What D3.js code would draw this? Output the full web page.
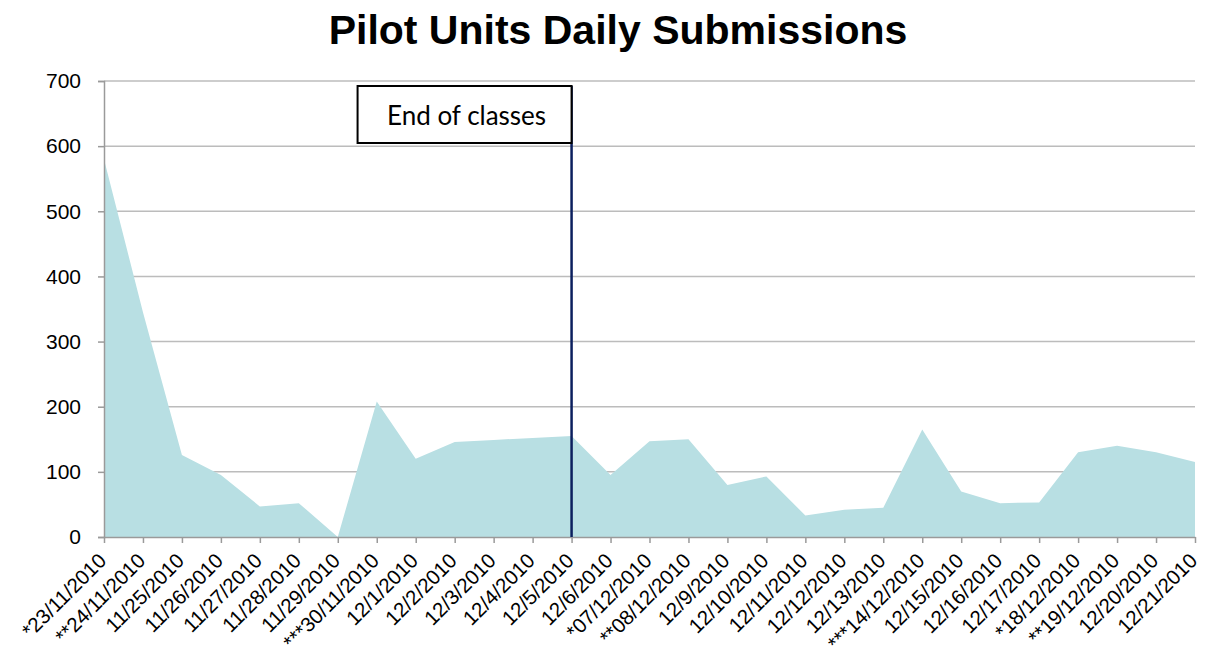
<!DOCTYPE html>
<html>
<head>
<meta charset="utf-8">
<script src="https://cdn.jsdelivr.net/npm/d3@7"></script>
<style>
  body { margin: 0; background: #fff; }
  svg { display: block; }
</style>
</head>
<body>
<div id="chart"></div>
<script>
// dates as printed on the axis (asterisks are part of the labels)
var dateLabels = ["*23/11/2010", "**24/11/2010", "11/25/2010", "11/26/2010", "11/27/2010",
  "11/28/2010", "11/29/2010", "***30/11/2010", "12/1/2010", "12/2/2010", "12/3/2010",
  "12/4/2010", "12/5/2010", "12/6/2010", "*07/12/2010", "**08/12/2010", "12/9/2010",
  "12/10/2010", "12/11/2010", "12/12/2010", "12/13/2010", "***14/12/2010", "12/15/2010",
  "12/16/2010", "12/17/2010", "*18/12/2010", "**19/12/2010", "12/20/2010", "12/21/2010"];

var submissions = [580, 345, 126, 95, 47, 52, 0, 208, 120, 146, 149, 152, 155,
  95, 147, 150, 80, 93, 33, 42, 45, 165, 70, 52, 53, 130, 140, 130, 115];

var yTicks = [0, 100, 200, 300, 400, 500, 600, 700];

var markerDate = "12/5/2010";
var markerText = "End of classes";

var W = 1207, H = 660;
var margin = {top: 81, right: 12, bottom: 123, left: 104};
var width = W - margin.left - margin.right,
    height = H - margin.top - margin.bottom;

var svg = d3.select("#chart").append("svg")
    .attr("width", W)
    .attr("height", H);

svg.append("text")
    .attr("x", 618)
    .attr("y", 44)
    .attr("text-anchor", "middle")
    .style("font-family", "'Liberation Sans', Arial, sans-serif")
    .style("font-weight", "bold")
    .style("font-size", "41px")
    .text("Pilot Units Daily Submissions");

var g = svg.append("g")
    .attr("transform", "translate(" + margin.left + "," + margin.top + ")");

var x = d3.scalePoint()
    .domain(dateLabels)
    .range([0, width]);

var y = d3.scaleLinear()
    .domain([0, 700])
    .range([height, 0]);

// gridlines
g.selectAll(".grid")
  .data(yTicks.slice(1))
  .enter().append("line")
    .attr("x1", 0)
    .attr("x2", width)
    .attr("y1", d => y(d))
    .attr("y2", d => y(d))
    .attr("stroke", "#bcbcbc")
    .attr("stroke-width", 1.5);

// the area
g.append("path")
  .datum(submissions)
  .attr("fill", "#b8dfe3")
  .attr("d", d3.area()
    .x((d, i) => x(dateLabels[i]))
    .y0(y(0))
    .y1(d => y(d)));

// y axis
var yAxis = g.append("g")
  .call(d3.axisLeft(y).tickValues(yTicks).tickSize(6).tickPadding(17));
yAxis.select(".domain").attr("stroke", "#9a9a9a").attr("stroke-width", 1.5);
yAxis.selectAll(".tick line").attr("stroke", "#9a9a9a").attr("stroke-width", 1.5);
yAxis.selectAll("text")
  .style("font-family", "'Liberation Sans', Arial, sans-serif")
  .style("font-size", "21px")
  .attr("fill", "#000");

// x axis
var xAxis = g.append("g")
  .attr("transform", "translate(0," + height + ")")
  .call(d3.axisBottom(x).tickSize(6).tickSizeOuter(0));
xAxis.select(".domain").attr("stroke", "#9a9a9a").attr("stroke-width", 1.5);
xAxis.selectAll(".tick line").attr("stroke", "#9a9a9a").attr("stroke-width", 1.5);
xAxis.selectAll("text")
  .style("font-family", "'Liberation Sans', Arial, sans-serif")
  .style("font-size", "20.5px")
  .attr("fill", "#000")
  .attr("text-anchor", "end")
  .attr("dy", null)
  .attr("y", 0)
  .attr("transform", "translate(3,25) rotate(-45)");

// marker line and label box
var mx = x(markerDate);
g.append("line")
  .attr("x1", mx).attr("x2", mx)
  .attr("y1", 5).attr("y2", height)
  .attr("stroke", "#0b1f5e")
  .attr("stroke-width", 2.5);

g.append("rect")
  .attr("x", mx - 214)
  .attr("y", 5)
  .attr("width", 214)
  .attr("height", 57)
  .attr("fill", "#fff")
  .attr("stroke", "#000")
  .attr("stroke-width", 2);

g.append("text")
  .attr("x", mx - 105)
  .attr("y", 44)
  .attr("text-anchor", "middle")
  .style("font-family", "Lato, 'Open Sans', sans-serif")
  .style("font-size", "26px")
  .text(markerText);
</script>
</body>
</html>
